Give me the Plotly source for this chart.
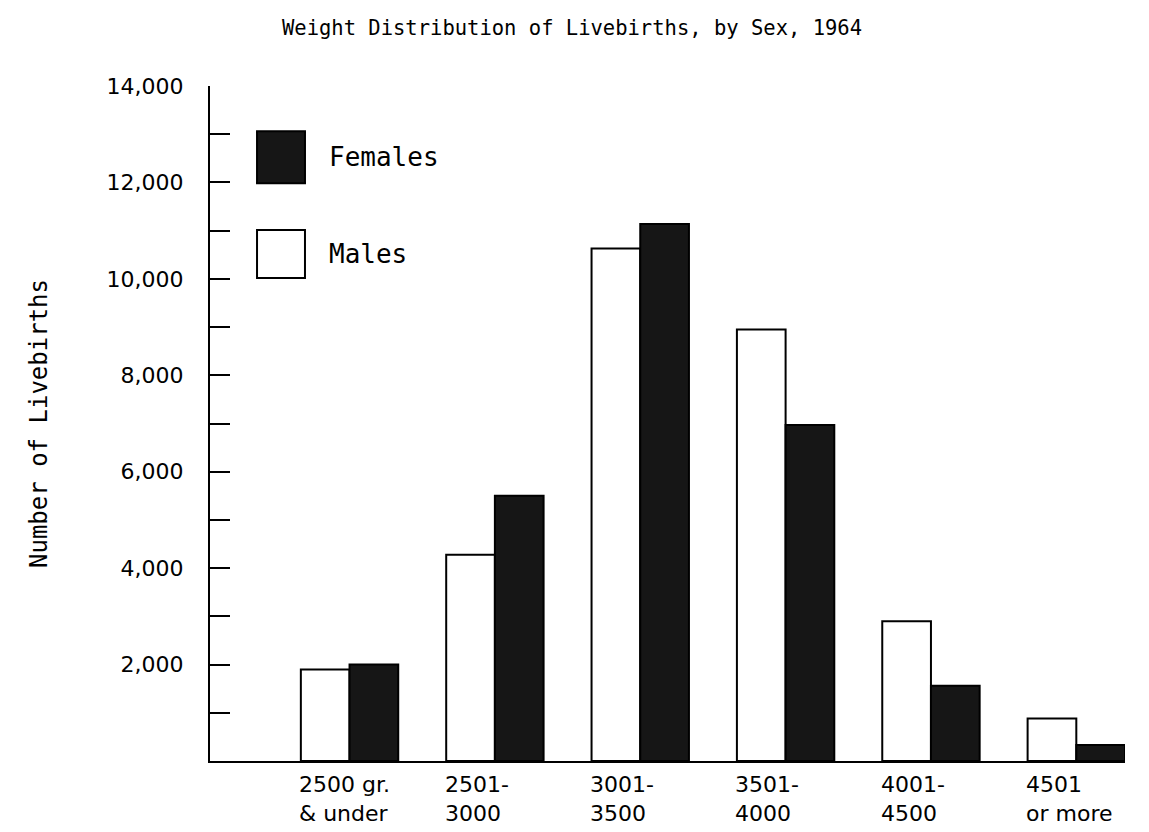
import plotly.graph_objects as go

categories = ["2500 gr.<br>& under", "2501-<br>3000", "3001-<br>3500",
              "3501-<br>4000", "4001-<br>4500", "4501<br>or more"]
males = [1900, 4280, 10630, 8950, 2900, 880]
females = [2000, 5500, 11140, 6970, 1560, 330]
y_tick_vals = [1000, 2000, 3000, 4000, 5000, 6000, 7000, 8000, 9000, 10000, 11000, 12000, 13000, 14000]
y_tick_text = ["", "2,000", "", "4,000", "", "6,000", "", "8,000", "", "10,000", "", "12,000", "", "14,000"]
legend_names = ["Females", "Males"]

x_pos = list(range(len(categories)))
mono = "DejaVu Sans Mono"
sans = "DejaVu Sans"

W, H = 1141, 824  # page adds an 8px body margin

fig = go.Figure()
fig.add_bar(x=x_pos, y=males, name="Males",
            marker=dict(color="white", line=dict(color="black", width=2)))
fig.add_bar(x=x_pos, y=females, name="Females",
            marker=dict(color="#161616", line=dict(color="black", width=2)))

fig.update_layout(
    width=W, height=H,
    margin=dict(l=202, r=24, t=78, b=71),
    paper_bgcolor="white", plot_bgcolor="white",
    barmode="group", bargap=0.33, bargroupgap=0,
    showlegend=False,
    title=dict(text="Weight Distribution of Livebirths, by Sex, 1964",
               font=dict(family=mono, size=20.5, color="black"),
               x=(572 - 8) / W, xanchor="center", y=1 - 20 / H, yanchor="middle"),
    xaxis=dict(range=[-0.96, 5.335], showline=True, linewidth=2, linecolor="black",
               showticklabels=False, ticks="", showgrid=False, zeroline=False),
    yaxis=dict(range=[0, 14000], showline=True, linewidth=2, linecolor="black",
               ticks="inside", ticklen=20, tickwidth=2, tickcolor="black",
               tickvals=y_tick_vals, ticktext=y_tick_text, ticklabelstandoff=20,
               tickfont=dict(family=sans, size=22, color="black"),
               showgrid=False, zeroline=False,
               title=dict(text="Number of Livebirths", standoff=52,
                          font=dict(family=mono, size=24, color="black"))),
)

# category labels, left-aligned under each group
for i, lab in enumerate(categories):
    fig.add_annotation(x=x_pos[i] - 0.36, xref="x", y=0, yref="paper",
                       xanchor="left", yanchor="top", yshift=-9, align="left",
                       text=lab, showarrow=False,
                       font=dict(family=sans, size=22, color="black"))

# legend (large swatches as in the original)
fig.add_shape(type="rect", xref="paper", yref="paper",
              x0=0.0514, x1=0.1038, y0=0.856, y1=0.933,
              fillcolor="#161616", line=dict(color="black", width=2))
fig.add_shape(type="rect", xref="paper", yref="paper",
              x0=0.0514, x1=0.1038, y0=0.7156, y1=0.7867,
              fillcolor="white", line=dict(color="black", width=2))
fig.add_annotation(x=0.128, y=0.895, xref="paper", yref="paper", xanchor="left",
                   yanchor="middle", text=legend_names[0], showarrow=False,
                   font=dict(family=mono, size=26, color="black"))
fig.add_annotation(x=0.128, y=0.751, xref="paper", yref="paper", xanchor="left",
                   yanchor="middle", text=legend_names[1], showarrow=False,
                   font=dict(family=mono, size=26, color="black"))

fig.write_html("out.html")
